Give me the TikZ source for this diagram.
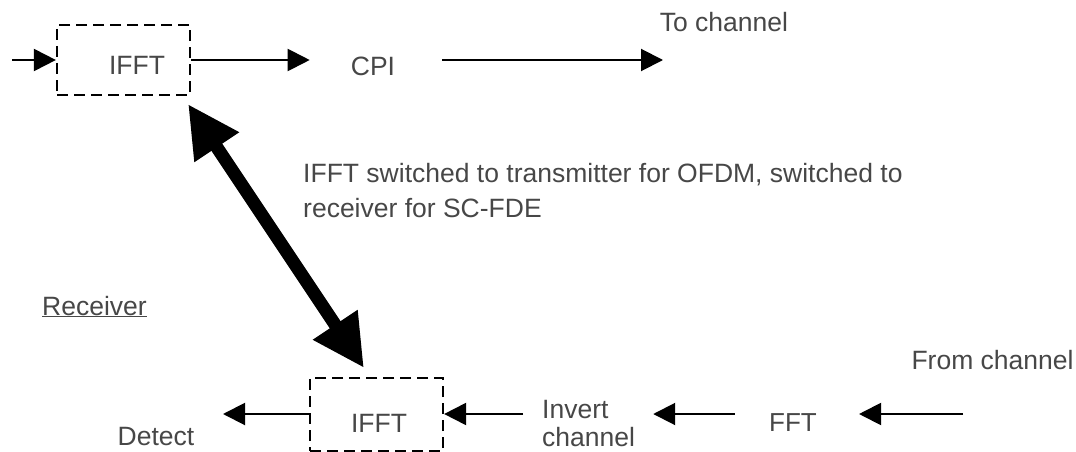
\documentclass[tikz,border=0pt]{standalone}
\usepackage{fontspec}
\setmainfont{Liberation Sans}
\usetikzlibrary{arrows.meta}
\begin{document}
\begin{tikzpicture}[x=1pt,y=-1pt,
  dbox/.style={draw, line width=2.2pt, dash pattern=on 11pt off 6pt, minimum width=133pt, minimum height=70pt, inner sep=0pt},
  lbl/.style={text=black!72, font=\fontsize{26.5}{35}\selectfont, inner sep=0pt},
  arr/.style={line width=2pt, -{Triangle[length=22pt,width=22pt]}},
  big/.style={line width=13pt, {Triangle[length=52pt,width=50pt]}-{Triangle[length=52pt,width=50pt]}}]
\useasboundingbox (0,0) rectangle (1076,452);
% transmitter
\node[dbox] (tifft) at (123.5,60) {};
\node[lbl] (tifftl) at (137,65) {IFFT};
\coordinate (tin) at (12,60);
\draw[arr] (tin) -- (tifft.west);
\node[lbl] (cpi) at (373,66) {CPI};
\draw[arr, shorten >=41pt] (tifft.east) -- (cpi.west |- tifft.east);
\coordinate (tout) at (663,60);
\draw[arr, shorten <=47pt] (cpi.east |- tout) -- (tout);
\node[lbl] (toch) at (724,22) {To channel};
% switch arrow
\coordinate (dA) at (188,104);
\coordinate (dB) at (364,368);
\draw[big] (dA) -- (dB);
\node[lbl, anchor=west, align=left] (cap) at (303,191) {IFFT switched to transmitter for OFDM, switched to\\receiver for SC-FDE};
% receiver
\node[lbl, anchor=base east] (recv) at (147,315) {\underline{Receiver}};
\node[dbox, minimum height=73pt] (bifft) at (376.5,414.5) {};
\node[lbl] (bifftl) at (379,423) {IFFT};
\coordinate (row) at (0,414);
\node[lbl] (detect) at (156,437) {Detect};
\coordinate (dtip) at (223,414);
\draw[arr] (bifft.west |- row) -- (dtip);
\node[lbl, font=\fontsize{26.5}{28.5}\selectfont, align=left, anchor=north west] (inv) at (542,400) {Invert\\channel};
\draw[arr, shorten <=19pt] (inv.west |- row) -- (bifft.east |- row);
\node[lbl, font=\fontsize{26}{30}\selectfont] (fft) at (793,423) {FFT};
\draw[arr, shorten <=34pt, shorten >=18pt] (fft.west |- row) -- (inv.east |- row);
\coordinate (fin) at (963,414);
\draw[arr, shorten >=42pt] (fin) -- (fft.east |- row);
\node[lbl] (fromch) at (992.5,360) {From channel};
\end{tikzpicture}
\end{document}
